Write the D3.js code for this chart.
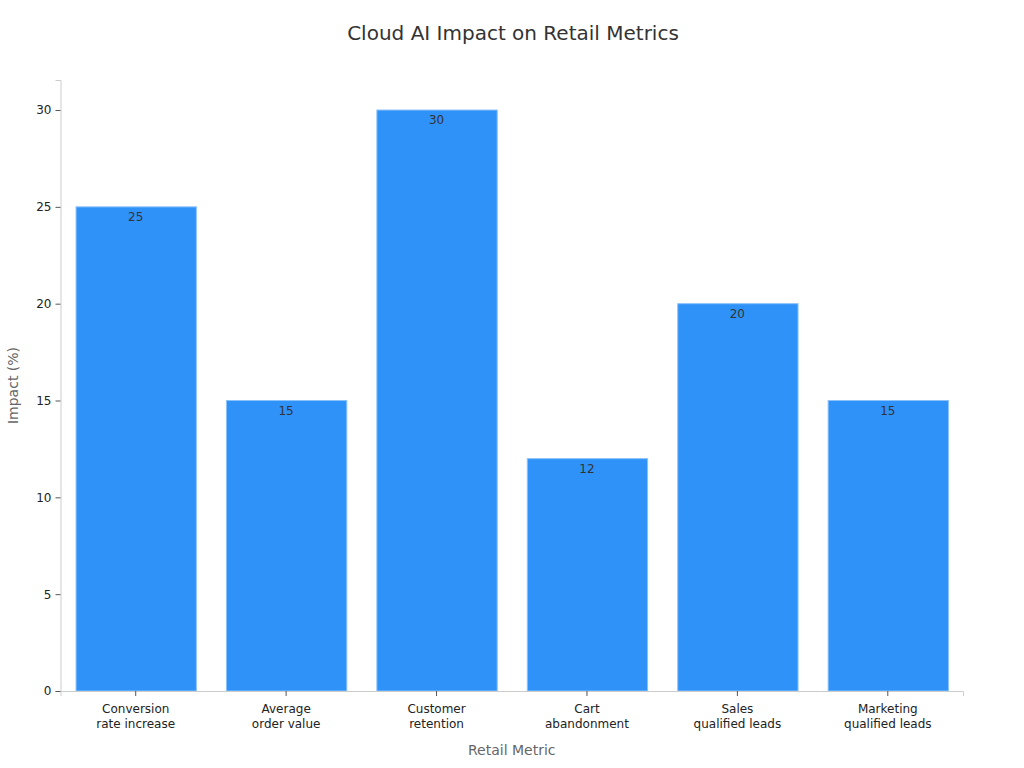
<!DOCTYPE html>
<html>
<head>
<meta charset="utf-8">
<script src="https://cdn.jsdelivr.net/npm/d3@7"></script>
<style>
  body { margin: 0; background: #fff; font-family: "DejaVu Sans", sans-serif; }
</style>
</head>
<body>
<div id="chart"></div>
<script>
// chart data
const categories = [
  "Conversion rate increase",
  "Average order value",
  "Customer retention",
  "Cart abandonment",
  "Sales qualified leads",
  "Marketing qualified leads"
];
const tickLines = [
  ["Conversion", "rate increase"],
  ["Average", "order value"],
  ["Customer", "retention"],
  ["Cart", "abandonment"],
  ["Sales", "qualified leads"],
  ["Marketing", "qualified leads"]
];
const values = [25, 15, 30, 12, 20, 15];
const yTicks = [0, 5, 10, 15, 20, 25, 30];

const width = 1024, height = 768;
const margin = { top: 80, right: 61, bottom: 77, left: 60.5 };
const innerW = width - margin.left - margin.right;
const innerH = height - margin.top - margin.bottom;

const svg = d3.select("#chart")
  .append("svg")
  .attr("width", width)
  .attr("height", height)
  .style("font-family", "'DejaVu Sans', sans-serif");

svg.append("text")
  .attr("x", width / 2 + 1)
  .attr("y", 40)
  .attr("text-anchor", "middle")
  .style("font-size", "20px")
  .style("fill", "#333")
  .text("Cloud AI Impact on Retail Metrics");

const g = svg.append("g")
  .attr("transform", `translate(${margin.left}, ${margin.top})`);

const x = d3.scaleBand()
  .domain(categories)
  .range([0, innerW])
  .paddingInner(0.2)
  .paddingOuter(0.1);

const y = d3.scaleLinear()
  .domain([0, 31.55])
  .range([innerH, 0]);

// bars
g.selectAll(".bar")
  .data(values)
  .enter()
  .append("rect")
  .attr("class", "bar")
  .attr("x", (d, i) => x(categories[i]) + 0.5)
  .attr("y", d => y(d))
  .attr("width", x.bandwidth())
  .attr("height", d => innerH - y(d))
  .attr("fill", "#2f92f8")
  .attr("stroke", "#8cc2fb")
  .attr("stroke-width", 1);

// value labels
g.selectAll(".val")
  .data(values)
  .enter()
  .append("text")
  .attr("class", "val")
  .attr("x", (d, i) => x(categories[i]) + x.bandwidth() / 2)
  .attr("y", d => y(d) + 14)
  .attr("text-anchor", "middle")
  .style("font-size", "12px")
  .style("fill", "#333")
  .text(d => d);

// y axis
const yAxis = g.append("g")
  .call(d3.axisLeft(y).tickValues(yTicks).tickSize(5).tickPadding(4));
yAxis.attr("font-family", null);
yAxis.select(".domain").attr("stroke", "#ccc");
yAxis.selectAll(".tick line").attr("stroke", "#555");
yAxis.selectAll(".tick text").style("font-size", "12px").style("fill", "#222");

// x axis
const xAxis = g.append("g")
  .attr("transform", `translate(0, ${innerH})`)
  .call(d3.axisBottom(x).tickSize(5).tickPadding(8).tickFormat(() => ""));
xAxis.attr("font-family", null);
xAxis.select(".domain").attr("stroke", "#ccc");
xAxis.selectAll(".tick line").attr("stroke", "#555");
xAxis.selectAll(".tick text").each(function(d, i) {
  const t = d3.select(this).style("font-size", "12px").style("fill", "#222");
  tickLines[i].forEach((line, k) => {
    t.append("tspan")
      .attr("x", 0)
      .attr("dy", k === 0 ? "0.71em" : "1.3em")
      .text(line);
  });
});

// axis titles
svg.append("text")
  .attr("x", margin.left + innerW / 2)
  .attr("y", 755)
  .attr("text-anchor", "middle")
  .style("font-size", "14px")
  .style("fill", "#666")
  .text("Retail Metric");

svg.append("text")
  .attr("transform", `translate(18, ${margin.top + innerH / 2}) rotate(-90)`)
  .attr("text-anchor", "middle")
  .style("font-size", "14px")
  .style("fill", "#666")
  .text("Impact (%)");
</script>
</body>
</html>
